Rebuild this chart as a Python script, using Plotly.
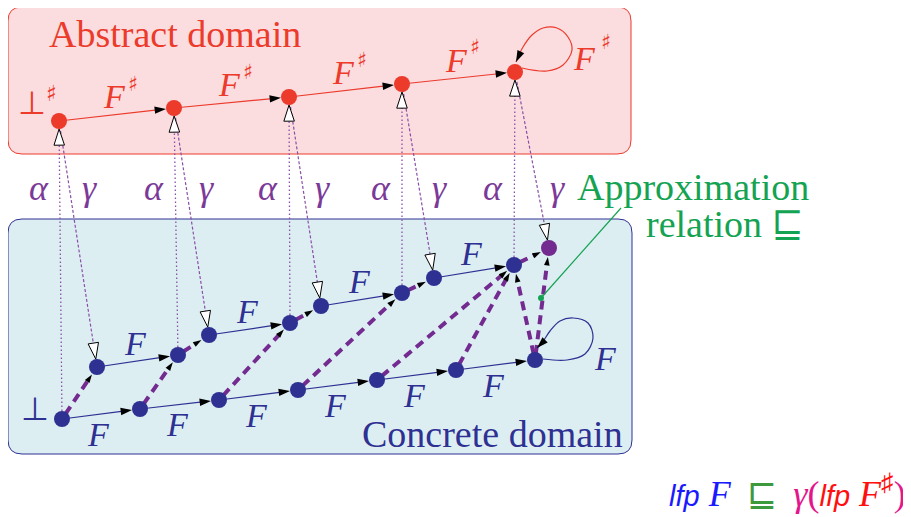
import math
import plotly.graph_objects as go

# ---------------- data (diagram coordinates, pixel-like units) ----------------
abs_x = [59, 174, 289, 402, 515]          # abstract iterates (red)
abs_y = [121, 108, 97, 84, 72]
low_x = [62, 140, 219, 298, 377, 456, 535]  # concrete lower chain
low_y = [419, 409, 400, 390, 380, 370, 360]
up_x = [97, 178, 209, 290, 321, 402, 434, 514]  # concrete upper chain
up_y = [367, 355, 335, 323, 306, 293, 278, 265]
gam_x = [549]                              # gamma(lfp F#)
gam_y = [248]
wit_x = [541]                              # approximation witness dot
wit_y = [298]
apx_x = [621]                              # end of leader line
apx_y = [208]

abs_edges = [(0, 1), (1, 2), (2, 3), (3, 4)]
low_edges = [(0, 1), (1, 2), (2, 3), (3, 4), (4, 5), (5, 6)]
up_edges = [(0, 1), (2, 3), (4, 5), (6, 7)]
approx_edges = [("L0", "U0"), ("L1", "U1"), ("L2", "U3"), ("L3", "U5"),
                ("L4", "U7"), ("L5", "U7"), ("L6", "U7"), ("L6", "G0"),
                ("U1", "U2"), ("U3", "U4"), ("U5", "U6"), ("U7", "G0")]
alpha_edges = [("L0", "A0"), ("U1", "A1"), ("U3", "A2"), ("U5", "A3"), ("U7", "A4")]
gamma_edges = [("A0", "U0"), ("A1", "U2"), ("A2", "U4"), ("A3", "U6"), ("A4", "G0")]

conc_loop_dx = [8, 32, 50, 58, 53, 38, 25, 15, 7, 2]
conc_loop_dy = [-1, 0, -6, -22, -37, -42, -39, -29, -17, -12]
abs_loop_dx = [7, 32, 48, 57, 53, 42, 28, 17, 8, 1]
abs_loop_dy = [-4, -1, -7, -22, -35, -44, -44, -37, -25, -10]

alpha_lbl_y = 188

# ---------------- styles ----------------
W, H = 911, 517
OFF = 8  # page body margin of the html page
RED = '#ec3a2b'
RED_FILL = '#fbdde0'
BLUE = '#2e3192'
BLUE_FILL = '#ddeef3'
PURPLE = '#732b90'
PURPLE_TXT = '#7c3a98'
DOT_PURPLE = '#8a4fa8'
GREEN = '#14a352'
SERIF = 'Liberation Serif, DejaVu Serif, serif'
NODE = 16

nodes = {}
for i, (x, y) in enumerate(zip(abs_x, abs_y)):
    nodes[f"A{i}"] = (x, y)
for i, (x, y) in enumerate(zip(low_x, low_y)):
    nodes[f"L{i}"] = (x, y)
for i, (x, y) in enumerate(zip(up_x, up_y)):
    nodes[f"U{i}"] = (x, y)
for i, (x, y) in enumerate(zip(gam_x, gam_y)):
    nodes[f"G{i}"] = (x, y)

fig = go.Figure()


def unit(p, q):
    dx, dy = q[0] - p[0], q[1] - p[1]
    L = math.hypot(dx, dy)
    return dx / L, dy / L


def add_edges(pairs, color, width, dash, head_size, head_gap, start_gap=0):
    lx, ly, hx, hy, ang = [], [], [], [], []
    head_len = head_size * 0.9
    for p, q in pairs:
        ux, uy = unit(p, q)
        tip = (q[0] - ux * head_gap, q[1] - uy * head_gap)
        end = (tip[0] - ux * head_len * 0.8, tip[1] - uy * head_len * 0.8)
        lx += [p[0] + ux * start_gap, end[0], None]
        ly += [p[1] + uy * start_gap, end[1], None]
        hx.append(tip[0])
        hy.append(tip[1])
        ang.append(math.degrees(math.atan2(ux, -uy)))
    fig.add_trace(go.Scatter(x=lx, y=ly, mode='lines', hoverinfo='skip',
                             line=dict(color=color, width=width, dash=dash)))
    return hx, hy, ang


heads = []  # (hx, hy, ang, size, fill, linecolor)

# dotted alpha / gamma connections
a = add_edges([(nodes[s], nodes[t]) for s, t in alpha_edges], DOT_PURPLE, 1.3, '1.5px,2.5px', 17, 8)
heads.append((*a, 17, 'white', 'black'))
g = add_edges([(nodes[s], nodes[t]) for s, t in gamma_edges], DOT_PURPLE, 1.2, '3px,2px', 17, 8)
heads.append((*g, 17, 'white', 'black'))

# thick dashed approximation edges
d = add_edges([(nodes[s], nodes[t]) for s, t in approx_edges], PURPLE, 4, '9px,6px', 9, 9, start_gap=6)
heads.append((*d, 9, 'black', 'black'))

# abstract chain
e = add_edges([(nodes[f"A{i}"], nodes[f"A{j}"]) for i, j in abs_edges], RED, 1.2, 'solid', 12, 8)
heads.append((*e, 12, 'black', 'black'))
# concrete chains
e = add_edges([(nodes[f"L{i}"], nodes[f"L{j}"]) for i, j in low_edges], BLUE, 1.2, 'solid', 12, 8)
heads.append((*e, 12, 'black', 'black'))
e = add_edges([(nodes[f"U{i}"], nodes[f"U{j}"]) for i, j in up_edges], BLUE, 1.2, 'solid', 12, 8)
heads.append((*e, 12, 'black', 'black'))

# self loops
for base, ddx, ddy, col in [(nodes["L6"], conc_loop_dx, conc_loop_dy, BLUE),
                            (nodes["A4"], abs_loop_dx, abs_loop_dy, RED)]:
    xs = [base[0] + v for v in ddx]
    ys = [base[1] + v for v in ddy]
    fig.add_trace(go.Scatter(x=xs, y=ys, mode='lines', hoverinfo='skip',
                             line=dict(color=col, width=1.2, shape='spline', smoothing=1)))
    ux, uy = unit((xs[-2], ys[-2]), (xs[-1], ys[-1]))
    heads.append(([xs[-1]], [ys[-1]], [math.degrees(math.atan2(ux, -uy))], 12, 'black', 'black'))

# leader line to "Approximation relation"
fig.add_trace(go.Scatter(x=[wit_x[0], apx_x[0]], y=[wit_y[0], apx_y[0]], mode='lines',
                         hoverinfo='skip', line=dict(color=GREEN, width=1.2)))

# nodes
fig.add_trace(go.Scatter(x=abs_x, y=abs_y, mode='markers', hoverinfo='skip',
                         marker=dict(size=NODE, color=RED, line=dict(width=0))))
fig.add_trace(go.Scatter(x=low_x + up_x, y=low_y + up_y, mode='markers', hoverinfo='skip',
                         marker=dict(size=NODE, color=BLUE, line=dict(width=0))))
fig.add_trace(go.Scatter(x=gam_x, y=gam_y, mode='markers', hoverinfo='skip',
                         marker=dict(size=NODE, color=PURPLE, line=dict(width=0))))
fig.add_trace(go.Scatter(x=wit_x, y=wit_y, mode='markers', hoverinfo='skip',
                         marker=dict(size=6, color=GREEN, line=dict(width=0))))

# arrow heads
for hx, hy, ang, size, fill, lc in heads:
    fig.add_trace(go.Scatter(x=hx, y=hy, mode='markers', hoverinfo='skip',
                             marker=dict(symbol='arrow', size=size, angle=ang, color=fill,
                                         line=dict(color=lc, width=1 if fill == 'white' else 0))))

# ---------------- boxes ----------------
def rbox(x0, y0, x1, y1, r):
    return (f"M{x0 + r},{y0} L{x1 - r},{y0} Q{x1},{y0} {x1},{y0 + r} L{x1},{y1 - r} "
            f"Q{x1},{y1} {x1 - r},{y1} L{x0 + r},{y1} Q{x0},{y1} {x0},{y1 - r} "
            f"L{x0},{y0 + r} Q{x0},{y0} {x0 + r},{y0} Z")

shapes = [
    dict(type='path', path=rbox(8, 7, 631, 154, 14), fillcolor=RED_FILL,
         line=dict(color=RED, width=1), layer='below'),
    dict(type='path', path=rbox(8, 219, 632, 454, 14), fillcolor=BLUE_FILL,
         line=dict(color=BLUE, width=1), layer='below'),
]

# ---------------- text ----------------
ann = []


def txt(x, y, s, size, color, xanchor='center', family=SERIF):
    ann.append(dict(x=x, y=y, text=s, showarrow=False, xanchor=xanchor, yanchor='middle',
                    font=dict(family=family, size=size, color=color)))


txt(175, 34, "Abstract domain", 38, RED)
txt(492, 434, "Concrete domain", 38, BLUE)
txt(693, 187, "Approximation", 38, GREEN)
txt(806, 224, "relation \u2291", 38, GREEN, xanchor='right')

# F labels on edges
def edge_labels(xs, ys, pairs, dy, color, sharp):
    for i, j in pairs:
        mx = (xs[i] + xs[j]) / 2 - 2.5
        my = (ys[i] + ys[j]) / 2 + dy
        txt(mx, my, "<i>F</i>", 34, color)
        if sharp:
            txt(mx + 19, my - 13, "\u266f", 21, color, family='DejaVu Sans')


edge_labels(abs_x, abs_y, abs_edges, -18, RED, True)
edge_labels(up_x, up_y, up_edges, -18, BLUE, False)
edge_labels(low_x, low_y, low_edges, 20, BLUE, False)

# loop labels
txt(abs_x[4] + 69, abs_y[4] - 14, "<i>F</i>", 34, RED)
txt(abs_x[4] + 91, abs_y[4] - 30, "\u266f", 21, RED, family='DejaVu Sans')
txt(low_x[6] + 70, low_y[6] - 2, "<i>F</i>", 34, BLUE)

# bottoms
txt(abs_x[0] - 22, abs_y[0] - 20, "\u22a5<sup>\u266f</sup>", 32, RED, family='DejaVu Sans')
txt(low_x[0] - 27, low_y[0] - 10, "\u22a5", 32, BLUE, family='DejaVu Sans')

# alpha / gamma labels
for (s, t) in alpha_edges:
    p, q = nodes[s], nodes[t]
    xl = p[0] + (q[0] - p[0]) * (alpha_lbl_y - p[1]) / (q[1] - p[1])
    txt(xl - 21, alpha_lbl_y, "<i>\u03b1</i>", 36, PURPLE_TXT)
for (s, t) in gamma_edges:
    p, q = nodes[s], nodes[t]
    xl = p[0] + (q[0] - p[0]) * (alpha_lbl_y - p[1]) / (q[1] - p[1])
    txt(xl + 20, alpha_lbl_y, "<i>\u03b3</i>", 36, PURPLE_TXT)

# formula
SANS = 'font-family:Liberation Sans, Arial, sans-serif;font-size:29px'
SP = '\u2009 '
formula = (f'<span style="color:#1a1aff;{SANS}"><i>lfp</i></span> '
           f'<span style="color:#1a1aff"><i>F</i></span>{SP}'
           f'<span style="color:#3c9a3c;font-family:DejaVu Sans">\u2291</span>{SP}'
           '<span style="color:#e4168c"><i>\u03b3</i>(</span>'
           f'<span style="color:#ff1010;{SANS}"><i>lfp</i></span> '
           '<span style="color:#ff1010"><i>F</i><sup>\u266f</sup></span>'
           '<span style="color:#e4168c">)</span>')
txt(908, 491, formula, 36, 'black', xanchor='right')

fig.update_layout(
    width=W - OFF, height=H - OFF, autosize=False,
    margin=dict(l=0, r=0, t=0, b=0, pad=0),
    paper_bgcolor='white', plot_bgcolor='white',
    showlegend=False,
    xaxis=dict(range=[OFF, W], visible=False, fixedrange=True),
    yaxis=dict(range=[H, OFF], visible=False, fixedrange=True),
    shapes=shapes, annotations=ann,
)

fig.write_html("out.html", config={'displayModeBar': False})
